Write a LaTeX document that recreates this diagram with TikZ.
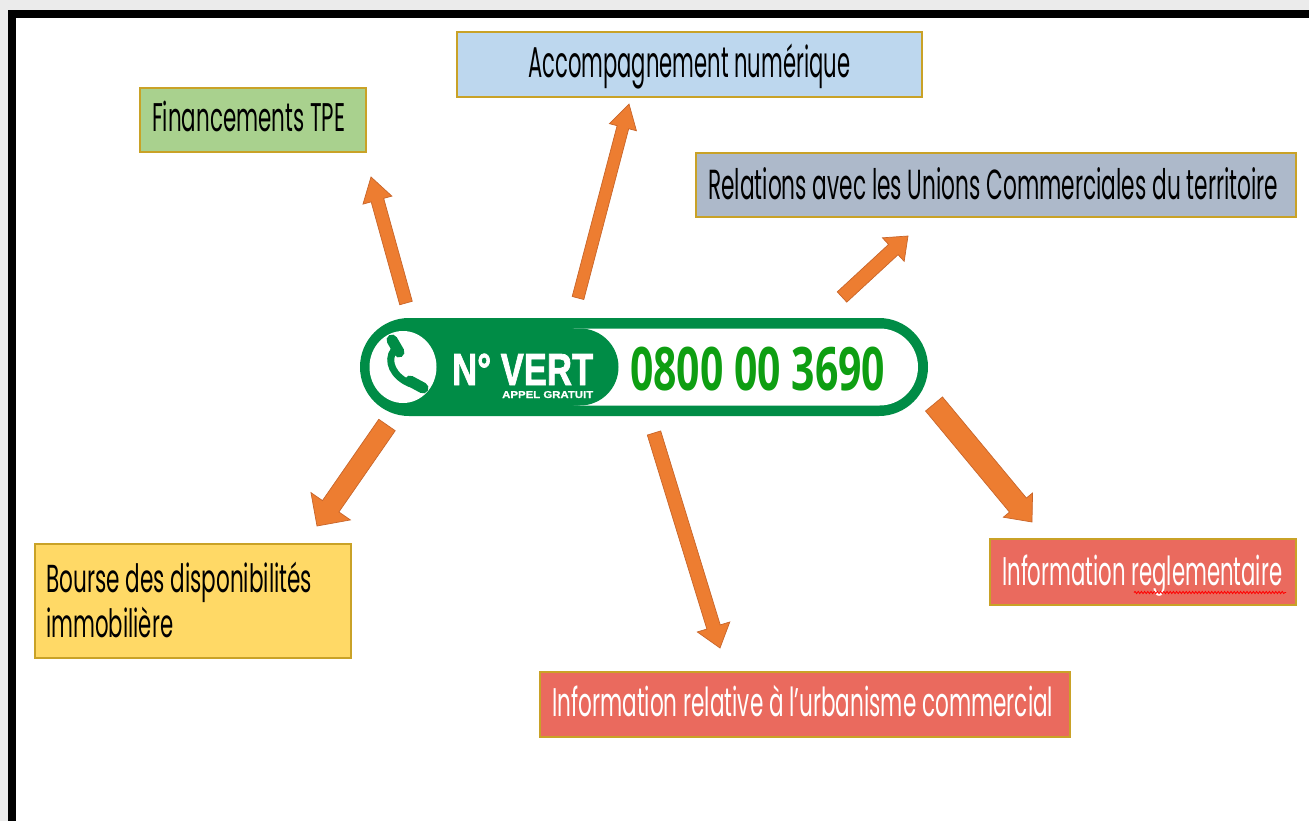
\documentclass[tikz,border=0pt]{standalone}
\usepackage{graphicx}
\usepackage{fontspec}
\setmainfont{Poppins}
\newfontfamily\badgefont[FakeBold=1.8]{Liberation Sans Bold}
\newfontfamily\smallbadgefont[FakeBold=0.6]{Liberation Sans Bold}
\newfontfamily\numfont{Open Sans}
\usetikzlibrary{calc,decorations.pathmorphing}
\definecolor{pagegray}{HTML}{EBEBEB}
\definecolor{orng}{HTML}{ED7D31}
\definecolor{orngdark}{HTML}{C8652A}
\definecolor{goldline}{HTML}{C9A227}
\definecolor{vgreen}{HTML}{008C46}
\definecolor{numgreen}{HTML}{0E9E12}
\definecolor{lgreen}{HTML}{A9D18E}
\definecolor{lblue}{HTML}{BDD7EE}
\definecolor{grayblue}{HTML}{ADB9CA}
\definecolor{lyellow}{HTML}{FFD966}
\definecolor{lred}{HTML}{EA6A5E}
\newcommand{\fitt}[2]{\resizebox{#1}{\height}{#2}}
\newcommand{\blockarrow}[5]{%
  \path ($(#2)!#5!(#1)$) coordinate (#2base);
  \filldraw[arrowshape]
    ($(#1)!#3!90:(#2)$) -- ($(#2base)!#3!-90:(#1)$) -- ($(#2base)!#4!-90:(#1)$) --
    (#2) -- ($(#2base)!#4!90:(#1)$) -- ($(#2base)!#3!90:(#1)$) --
    ($(#1)!#3!-90:(#2)$) -- cycle;
}
\tikzset{
  box/.style={draw=goldline, line width=1.3pt, inner sep=0pt},
  lbl/.style={inner sep=0pt, anchor=base west, text=black},
  wlbl/.style={inner sep=0pt, anchor=base west, text=white},
  arrowshape/.style={fill=orng, draw=orngdark, line width=0.7pt, line join=miter}
}
\begin{document}
\begin{tikzpicture}[x=1pt,y=-1pt]
\useasboundingbox (0,0) rectangle (1309,821);
% frame
\fill[pagegray] (0,0) rectangle (1309,821);
\fill[black] (8,10) rectangle (1309,821);
\fill[white] (16,18.3) rectangle (1309,821);

% boxes
\path[box, fill=lgreen] (140,88) rectangle (366,152);
\node[inner sep=0pt] (finbox) at (253,120) {};
\node[lbl] (fintxt) at (152,132) {\fontsize{40}{48}\selectfont\fitt{193pt}{Financements TPE}};

\path[box, fill=lblue] (457,32) rectangle (922,97);
\node[inner sep=0pt] (accbox) at (689.5,64.5) {};
\node[lbl] (acctxt) at (528,78) {\fontsize{43}{50}\selectfont\fitt{322pt}{Accompagnement numérique}};

\path[box, fill=grayblue] (696,153) rectangle (1296,217);
\node[inner sep=0pt] (relbox) at (996,185) {};
\node[lbl] (reltxt) at (708,200) {\fontsize{42}{50}\selectfont\fitt{570pt}{Relations avec les Unions Commerciales du territoire}};

\path[box, fill=lyellow] (35,544) rectangle (351,658);
\node[inner sep=0pt] (boubox) at (193,601) {};
\node[lbl] (boutxta) at (46,592) {\fontsize{39}{46}\selectfont\fitt{266pt}{Bourse des disponibilités}};
\node[lbl] (boutxtb) at (46,637) {\fontsize{39}{46}\selectfont\fitt{127pt}{immobilière}};

\path[box, fill=lred] (540,672) rectangle (1070,737);
\node[inner sep=0pt] (urbbox) at (805,704.5) {};
\node[wlbl] (urbtxt) at (552,716) {\fontsize{40}{48}\selectfont\fitt{501pt}{Information relative à l’urbanisme commercial}};

\path[box, fill=lred] (990,539) rectangle (1296,605);
\node[inner sep=0pt] (regbox) at (1143,572) {};
\node[wlbl] (regtxt) at (1002,585) {\fontsize{40}{48}\selectfont\fitt{280pt}{Information reglementaire}};
\coordinate (squigA) at (1134,592.5);
\coordinate (squigB) at (1286,592.5);
\draw[red, line width=0.8pt, decorate, decoration={snake, amplitude=1.1pt, segment length=3.2pt}] (squigA) -- (squigB);

% badge
\fill[vgreen, rounded corners=49pt] (360,318) rectangle (928,416);
\fill[white, rounded corners=38.5pt] (540,328.5) rectangle (918,405.5);
\fill[vgreen, rounded corners=38.5pt] (470,328.5) rectangle (618.5,405.5);
\fill[white] (403,367) ellipse [x radius=33.5pt, y radius=36pt];
% phone handset
\draw[vgreen, line width=7pt] (394,350) .. controls (386,361) and (393,377) .. (411,384);
\draw[vgreen, line width=11pt, line cap=round] (392,340) -- (399,352);
\draw[vgreen, line width=11pt, line cap=round] (410,381) -- (423,388);
\node[inner sep=0pt, anchor=base west, text=white] (vert) at (452,385)
  {\badgefont\fontsize{45}{50}\selectfont\fitt{141pt}{N° VERT}%
   \llap{\raisebox{-13pt}{\smallbadgefont\fontsize{10}{12}\selectfont\fitt{91pt}{APPEL GRATUIT}}}};
\node[inner sep=0pt, anchor=base west, text=numgreen] (numero) at (630,390)
  {\numfont\bfseries\fontsize{60}{66}\selectfont\fitt{255pt}{0800 00 3690}};

% arrows
\coordinate (a1t) at (406,303); \coordinate (a1h) at (371,177);
\coordinate (a2t) at (578,298); \coordinate (a2h) at (629,104);
\coordinate (a3t) at (842,297); \coordinate (a3h) at (908,236);
\coordinate (a4t) at (387,425); \coordinate (a4h) at (317,526);
\coordinate (a5t) at (654,433); \coordinate (a5h) at (720,648);
\coordinate (a6t) at (934,404); \coordinate (a6h) at (1032,522);
\blockarrow{a1t}{a1h}{6.5pt}{15pt}{24pt}
\blockarrow{a2t}{a2h}{6pt}{14pt}{24pt}
\blockarrow{a3t}{a3h}{7pt}{16pt}{20pt}
\blockarrow{a4t}{a4h}{10pt}{24pt}{24pt}
\blockarrow{a5t}{a5h}{7pt}{17pt}{22pt}
\blockarrow{a6t}{a6h}{11pt}{19pt}{22pt}
\end{tikzpicture}
\end{document}
